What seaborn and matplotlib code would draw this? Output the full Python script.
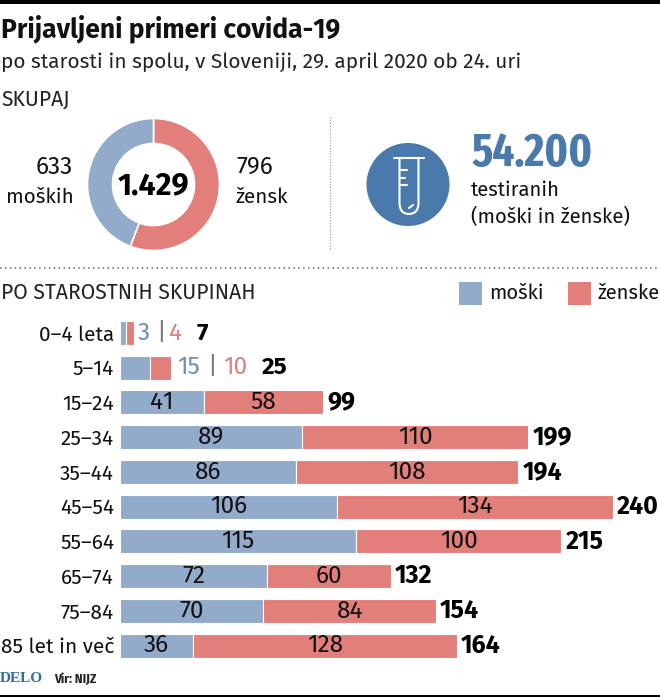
"""
Prijavljeni primeri covida-19 po starosti in spolu
"""

import matplotlib.pyplot as plt
import seaborn as sns
import pandas as pd
from matplotlib.patches import Circle, Rectangle, PathPatch
from matplotlib.path import Path

age_groups = ["0–4 leta", "5–14", "15–24", "25–34", "35–44", "45–54", "55–64", "65–74", "75–84", "85 let in več"]
men = [3, 15, 41, 89, 86, 106, 115, 72, 70, 36]
women = [4, 10, 58, 110, 108, 134, 100, 60, 84, 128]
totals = [7, 25, 99, 199, 194, 240, 215, 132, 154, 164]

total_men = 633
total_women = 796
total_all = "1.429"
tested = "54.200"

BLUE = "#92abcb"
RED = "#e27f7b"
DARK_BLUE = "#4a7aab"
TEXT_BLUE = "#6a8fbd"
BLACK = "#111111"
W, H = 660, 697

MAIN_FONT = ["Fira Sans", "Open Sans", "DejaVu Sans"]
NARROW_FONT = ["Fira Sans Condensed", "Roboto", "DejaVu Sans"]
TIGHT_FONT = ["Fira Sans Extra Condensed", "Fira Sans Condensed", "Roboto", "DejaVu Sans"]

sns.set_theme(style="white")
plt.rcParams["font.family"] = MAIN_FONT

fig = plt.figure(figsize=(W / 100, H / 100), dpi=100, facecolor="white")


def px_axes(left, top, right, bottom):
    return fig.add_axes([left / W, 1 - bottom / H, (right - left) / W, (bottom - top) / H])


# overlay in pixel coordinates for headers, rules and the icon
bg = px_axes(0, 0, W, H)
bg.set_xlim(0, W)
bg.set_ylim(H, 0)
bg.axis("off")

bg.add_patch(Rectangle((0, 0), W, 3.5, color="black", lw=0))
bg.add_patch(Rectangle((0, 695), W, 2, color="black", lw=0))

bg.text(1, 29, "Prijavljeni primeri covida-19", fontsize=19, fontweight="bold", color=BLACK, va="center")
bg.text(1, 62, "po starosti in spolu, v Sloveniji, 29. april 2020 ob 24. uri", fontsize=15, color="#222222", va="center")
bg.text(1, 99, "SKUPAJ", fontsize=15.2, color="#222222", va="center")
bg.text(1, 293, "PO STAROSTNIH SKUPINAH", fontsize=15.2, color="#222222", va="center")

# dotted rules
bg.plot([0, W], [267.5, 267.5], color="#666666", lw=1.1, ls=(0, (1, 2.2)))
bg.plot([330, 330], [117, 250], color="#999999", lw=0.8, ls=(0, (1, 1.5)))

# totals next to the donut
bg.text(73, 167, str(total_men), fontsize=17.5, color=BLACK, ha="right", va="center")
bg.text(74, 197, "moških", fontsize=14.8, color=BLACK, ha="right", va="center")
bg.text(236, 167, str(total_women), fontsize=17.5, color=BLACK, ha="left", va="center")
bg.text(236, 197, "žensk", fontsize=14.8, color=BLACK, ha="left", va="center")

# test tube icon
bg.add_patch(Circle((408, 184.5), 41.5, color=DARK_BLUE, lw=0))
bg.plot([394, 424], [158, 158], color="white", lw=1.5, solid_capstyle="round")
tube = Path(
    [(399.5, 158), (399.5, 203), (399.5, 214), (409, 214), (418.5, 214), (418.5, 203), (418.5, 158)],
    [Path.MOVETO, Path.LINETO, Path.CURVE3, Path.CURVE3, Path.CURVE3, Path.CURVE3, Path.LINETO],
)
bg.add_patch(PathPatch(tube, fill=False, edgecolor="white", lw=1.5))
for tick_y, tick_x in [(170, 407), (177.5, 405), (185, 407)]:
    bg.plot([399.5, tick_x], [tick_y, tick_y], color="white", lw=1.5)
bg.plot([409, 413], [208, 205], color="white", lw=1.5, solid_capstyle="round")

bg.text(472, 154, tested, fontsize=33.6, fontweight="bold", color=DARK_BLUE, va="center", family=TIGHT_FONT)
bg.text(471, 190, "testiranih", fontsize=14.6, color=BLACK, va="center")
bg.text(471, 217, "(moški in ženske)", fontsize=14.6, color=BLACK, va="center")

# legend
bg.add_patch(Rectangle((458.5, 282), 23, 22.5, color=BLUE, lw=0))
bg.add_patch(Rectangle((567.5, 282), 23, 22.5, color=RED, lw=0))
bg.text(489, 293, "moški", fontsize=14.5, color=BLACK, va="center")
bg.text(597, 293, "ženske", fontsize=14.5, color=BLACK, va="center")

# footer
bg.text(0, 679, "DELO", fontsize=11, fontweight="bold", color="#2f6f9f", va="center", family="Liberation Serif")
bg.text(54, 679, "Vir: NIJZ", fontsize=9.4, fontweight="bold", color="#222222", va="center", family=NARROW_FONT)

# donut
pie_ax = px_axes(86.5, 117.5, 220.5, 251.5)
pie_ax.pie(
    [total_women, total_men],
    colors=[RED, BLUE],
    startangle=90,
    counterclock=False,
    radius=1.0,
    wedgeprops={"width": 25 / 66, "edgecolor": "white", "linewidth": 1.2},
)
pie_ax.set_xlim(-1.015, 1.015)
pie_ax.set_ylim(-1.015, 1.015)
pie_ax.text(0, -0.03, total_all, fontsize=22, fontweight="bold", color="black", ha="center", va="center")

# stacked bars by age group
df = pd.DataFrame({"skupina": age_groups, "moski": men, "zenske": women, "skupaj": totals})

ax = px_axes(119.5, 315.6, W, 663)
ax.patch.set_alpha(0)
sns.barplot(data=df, y="skupina", x="moski", color=BLUE, width=0.69, saturation=1,
            edgecolor="white", linewidth=0.8, ax=ax)
sns.barplot(data=df, y="skupina", x="zenske", left=df["moski"], color=RED, width=0.69, saturation=1,
            edgecolor="white", linewidth=0.8, ax=ax)
ax.set_xlim(0, 540.5 / 2.055)
ax.set_ylim(9.5, -0.5)
ax.set_xlabel("")
ax.set_ylabel("")
ax.set_xticks([])
ax.tick_params(axis="y", length=0, pad=4, labelsize=15, labelcolor=BLACK)
sns.despine(ax=ax, left=True, bottom=True)

for i, (m, z, t) in enumerate(zip(men, women, totals)):
    if i < 2:
        continue
    ax.text(m / 2, i, str(m), fontsize=17.5, color=BLACK, ha="center", va="center")
    ax.text(m + z / 2, i, str(z), fontsize=17.5, color=BLACK, ha="center", va="center")
    ax.annotate(str(t), (t, i), xytext=(3, 0), textcoords="offset points", fontsize=18,
                fontweight="bold", color="black", ha="left", va="center")

# the two smallest groups carry their values beside the bar
small_x = [(144, 160.5, 176, 202), (189, 212, 235, 275)]
for i, xs in enumerate(small_x):
    labels = [(men[i], TEXT_BLUE, "normal"), ("|", "#777777", "normal"), (women[i], RED, "normal"), (totals[i], "black", "bold")]
    for x_px, (label, color, weight) in zip(xs, labels):
        ax.annotate(str(label), (0, i), xytext=((x_px - 119.5) * 0.72, 0), textcoords="offset points",
                    fontsize=17.5, color=color, fontweight=weight, ha="center", va="center")

fig.savefig("out.png", dpi=100)
plt.close(fig)
